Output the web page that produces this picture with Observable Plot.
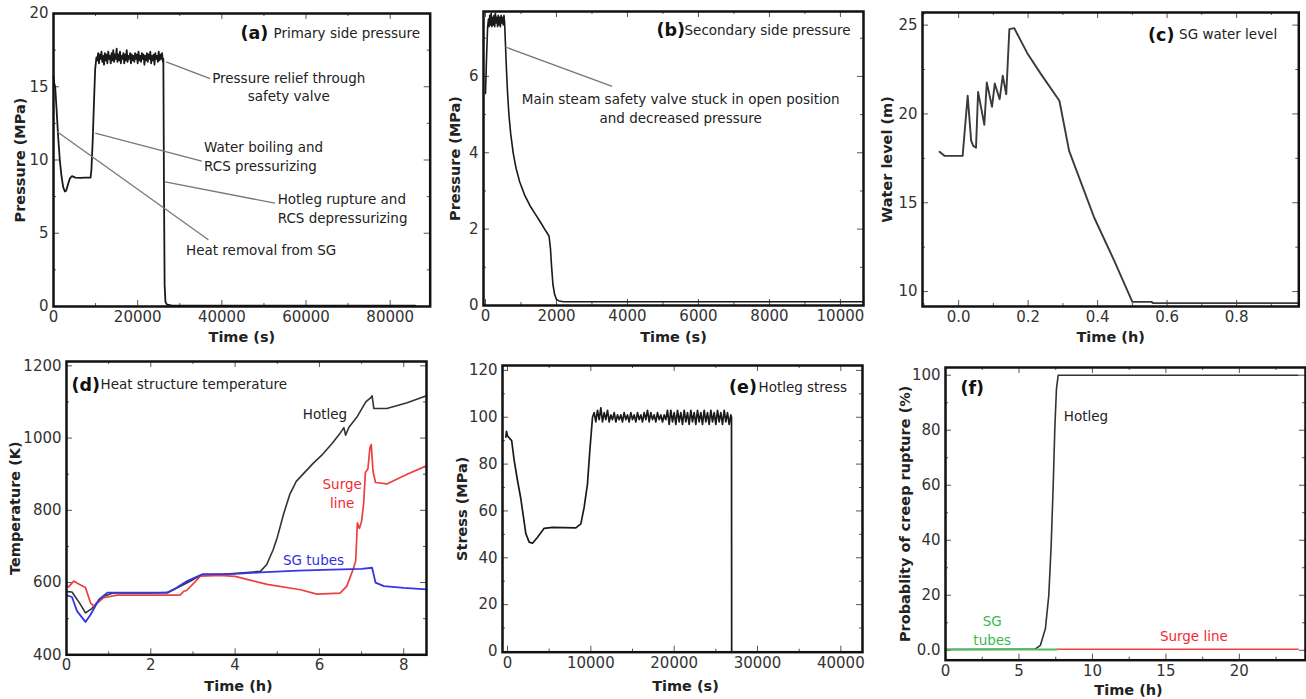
<!DOCTYPE html>
<html><head><meta charset="utf-8">
<script src="https://cdn.jsdelivr.net/npm/d3@7"></script>
<script src="https://cdn.jsdelivr.net/npm/@observablehq/plot@0.6"></script>
<style>
html,body{margin:0;padding:0;background:#fff;}
#wrap{position:relative;width:1306px;height:699px;overflow:hidden;font-family:"DejaVu Sans",sans-serif;}
#wrap svg{position:absolute;overflow:visible;background:transparent;}
</style></head><body><div id="wrap"></div>
<script>
// ---------- (a) Primary side pressure: time (s), pressure (MPa)
const primaryPre = [[0,15.7],[200,15.2],[400,15.0],[700,13.6],[1100,11.6],[1500,10.0],[1900,8.9],[2300,8.15],[2700,7.85],[3000,7.9],[3400,8.3],[3900,8.75],[4400,8.9],[5200,8.8],[6500,8.78],[7500,8.8],[8800,8.8],[9000,9.3],[9300,11.2],[9600,13.8],[9900,16.2]];
const primaryNoiseStart = 10200, primaryNoiseStep = 200;
const primaryNoise = [17.0,16.8,17.3,16.6,17.2,16.9,17.4,16.7,17.1,16.5,
 17.3,16.8,17.2,16.6,17.4,16.9,17.1,16.6,17.3,16.8,
 17.5,16.7,17.2,16.9,17.6,16.7,17.2,16.8,17.4,16.6,
 17.1,16.9,17.3,16.6,17.2,16.8,17.5,16.7,17.1,16.9,
 17.3,16.6,17.2,16.8,17.1,16.7,17.3,16.9,17.2,16.6,
 17.4,16.8,17.1,16.7,17.3,16.9,17.2,16.5,17.1,16.8,
 17.3,16.7,17.2,16.9,17.4,16.6,17.1,16.8,17.2,16.5,
 17.3,16.9,17.1,16.7,17.4,16.8,17.2,16.9,17.3,16.7];
const primaryPost = [[26100,16.9],[26250,8.0],[26400,1.5],[26600,0.3],[27000,0.12],[28000,0.08],[40000,0.06],[60000,0.05],[86000,0.05]];

// ---------- (b) Secondary side pressure: time (s), pressure (MPa)
const secondaryPre = [[0,5.55],[30,6.5],[60,7.3],[85,7.5]];
const secondaryNoiseStart = 100, secondaryNoiseStep = 20;
const secondaryNoise = [7.3,7.6,7.35,7.65,7.3,7.55,7.35,7.6,7.3,7.65,7.4,7.55,7.3,7.6,7.35,7.55,7.3,7.6,7.4,7.55,7.35,7.6,7.4];
const secondaryPost = [[560,6.9],[590,6.2],[620,5.6],[660,5.0],[710,4.5],[780,4.0],[860,3.6],[960,3.25],[1100,2.9],[1250,2.62],[1400,2.4],[1550,2.18],[1700,1.95],[1790,1.82],[1830,1.5],[1860,1.05],[1900,0.55],[1950,0.28],[2000,0.16],[2070,0.12],[2200,0.1],[6000,0.1],[10650,0.1]];

// ---------- (c) SG water level: time (h), level (m)
const waterLevel = [[-0.055,17.87],[-0.041,17.64],[0.0115,17.64],[0.026,21.02],[0.036,18.5],[0.042,18.2],[0.05,18.1],[0.056,21.24],[0.074,19.39],[0.081,21.77],[0.096,20.4],[0.104,21.71],[0.118,20.83],[0.127,22.15],[0.137,21.11],[0.146,24.77],[0.16,24.83],[0.199,23.37],[0.237,22.24],[0.29,20.74],[0.318,17.92],[0.39,14.17],[0.448,11.73],[0.50,9.42],[0.555,9.42],[0.56,9.35],[0.98,9.35]];

// ---------- (d) Heat structure temperature: time (h), temperature (K)
const tempHotleg = [[0,575],[0.13,574],[0.3,545],[0.45,516],[0.6,528],[0.75,548],[0.9,563],[1.1,571],[1.5,571],[2.0,571],[2.4,572],[2.7,590],[3.0,608],[3.2,621],[3.7,623],[4.2,627],[4.6,631],[4.75,650],[4.9,690],[5.0,725],[5.15,790],[5.3,845],[5.45,880],[5.65,905],[5.85,930],[6.05,952],[6.3,985],[6.5,1015],[6.58,1029],[6.62,1008],[6.7,1030],[6.9,1060],[7.1,1100],[7.22,1112],[7.25,1117],[7.29,1082],[7.6,1082],[8.08,1098],[8.54,1117]];
const tempSurge = [[0,590],[0.05,588],[0.17,604],[0.29,596],[0.45,586],[0.57,544],[0.65,535],[0.88,558],[1.2,565],[2.0,565],[2.62,565],[2.7,566],[2.78,576],[2.85,578],[3.18,618],[3.65,620],[4.0,617],[4.76,595],[5.55,580],[5.94,568],[6.49,571],[6.65,590],[6.8,637],[6.86,660],[6.88,710],[6.9,765],[6.95,750],[7.0,770],[7.05,820],[7.09,905],[7.15,915],[7.2,975],[7.23,982],[7.27,909],[7.33,877],[7.6,873],[8.08,900],[8.54,923]];
const tempSGTubes = [[0,565],[0.13,560],[0.25,521],[0.45,491],[0.57,511],[0.77,553],[0.97,572],[1.5,572],[2.39,572],[2.6,585],[2.86,604],[3.22,623],[4.0,624],[4.6,628],[5.5,633],[6.3,636],[7.0,638],[7.25,641],[7.33,600],[7.53,590],[8.0,585],[8.54,581]];

// ---------- (e) Hotleg stress: time (s), stress (MPa)
const stressPre = [[-200,91.5],[-120,94],[0,92],[120,91.5],[500,90],[800,81.6],[1200,73],[1600,65.2],[1800,60.2],[2200,50.3],[2600,46.7],[3000,46.2],[3600,48.8],[4400,52.6],[5400,53.0],[8200,52.8],[8800,54.5],[9200,61.6],[9600,71.6],[9880,85.8],[10200,100]];
const stressNoiseStart = 10400, stressNoiseStep = 200;
const stressNoise = [102,98,103,99,104,98,102,99,103,98,
 101,99,102,98,101,99,101,98,102,99,
 101,98,102,99,101,98,102,99,101,98,
 102,99,103,98,102,99,101,98,102,99,
 101,98,101,99,103,97,103,98,102,97,
 103,98,102,97,103,98,102,97,103,98,
 102,97,103,98,102,97,103,98,102,97,
 103,98,102,97,103,98,102,97,103,98,
 102,97,101];
const stressPost = [[26880,100],[26900,0]];

// ---------- (f) Probability of creep rupture: time (h), probability (%)
const probHotleg = [[0,0.3],[6.1,0.4],[6.46,1.8],[6.8,7.9],[7.03,20],[7.19,38],[7.33,60],[7.44,80.6],[7.55,95],[7.67,100],[24,100]];
const probSGTubes = [[0,0.3],[7.6,0.3]];
const probSurge = [[7.6,0.4],[24,0.4]];

// ---------- tick values
const ticksA = {xMajor:[0,20000,40000,60000,80000], xMinor:[10000,30000,50000,70000], yMajor:[0,5,10,15,20], yMinor:[2.5,7.5,12.5,17.5]};
const ticksB = {xMajor:[0,2000,4000,6000,8000,10000], xMinor:[1000,3000,5000,7000,9000], yMajor:[0,2,4,6], yMinor:[1,3,5,7]};
const ticksC = {xMajor:[0,0.2,0.4,0.6,0.8], xMinor:[-0.1,0.1,0.3,0.5,0.7,0.9], yMajor:[10,15,20,25], yMinor:[12.5,17.5,22.5]};
const ticksD = {xMajor:[0,2,4,6,8], xMinor:[1,3,5,7], yMajor:[400,600,800,1000,1200], yMinor:[500,700,900,1100]};
const ticksE = {xMajor:[0,10000,20000,30000,40000], xMinor:[5000,15000,25000,35000], yMajor:[0,20,40,60,80,100,120], yMinor:[10,30,50,70,90,110]};
const ticksF = {xMajor:[0,5,10,15,20], xMinor:[2.5,7.5,12.5,17.5,22.5], yMajor:[0,20,40,60,80,100], yMinor:[10,30,50,70,90]};

function withNoise(pre, start, step, vals, post) {
  return pre.concat(vals.map((v, i) => [start + i * step, v]), post);
}
const X = d => d[0], Y = d => d[1];
const INK = "#222";
const wrap = document.getElementById("wrap");

function panel(cfg) {
  const [L, T, R, B] = cfg.frame;
  const mL = 70, mT = 12, mR = 12, mB = 50;
  const tk = cfg.ticks;
  const [x0, x1] = cfg.xDomain, [y0, y1] = cfg.yDomain;
  const perPxY = (y1 - y0) / (B - T), perPxX = (x1 - x0) / (R - L);
  const tickStyle = {stroke: "#555", strokeWidth: 1};
  const xTicks = (vals, len) => [
    Plot.ruleX(vals, {x: d => d, y1: y0, y2: y0 + len * perPxY, ...tickStyle}),
    Plot.ruleX(vals, {x: d => d, y1: y1, y2: y1 - len * perPxY, ...tickStyle})
  ];
  const yTicks = (vals, len) => [
    Plot.ruleY(vals, {y: d => d, x1: x0, x2: x0 + len * perPxX, ...tickStyle}),
    Plot.ruleY(vals, {y: d => d, x1: x1, x2: x1 - len * perPxX, ...tickStyle})
  ];
  const svg = Plot.plot({
    width: (R - L) + mL + mR, height: (B - T) + mT + mB,
    marginLeft: mL, marginTop: mT, marginRight: mR, marginBottom: mB,
    style: {fontFamily: "DejaVu Sans, sans-serif", fontSize: "14px", background: "transparent", overflow: "visible", color: INK},
    x: {domain: cfg.xDomain, label: null},
    y: {domain: cfg.yDomain, label: null},
    marks: [
      ...xTicks(tk.xMajor, 6), ...xTicks(tk.xMinor, 3),
      ...yTicks(tk.yMajor, 6), ...yTicks(tk.yMinor, 3),
      ...cfg.marks,
      Plot.axisX(tk.xMajor, {anchor: "bottom", tickSize: 0, tickPadding: 5, fontSize: 15, fill: "#333", label: null, tickFormat: cfg.xFormat || (d => String(d))}),
      Plot.axisY(tk.yMajor, {anchor: "left", tickSize: 0, tickPadding: 5, fontSize: 15, fill: "#333", label: null, tickFormat: cfg.yFormat || (d => String(d))}),
      Plot.frame({stroke: "#111", strokeWidth: 2.5}),
      Plot.text([cfg.xLabel], {text: d => d, frameAnchor: "bottom", dy: cfg.xLabelDy, dx: cfg.xLabelDx || 0, lineAnchor: "middle", fontWeight: "bold", fontSize: 14.5, fill: INK}),
      Plot.text([cfg.yLabel], {text: d => d, frameAnchor: "left", dx: cfg.yLabelDx, rotate: -90, lineAnchor: "middle", textAnchor: "middle", fontWeight: "bold", fontSize: 14.5, fill: INK}),
      Plot.text([cfg.tag], {text: d => d, frameAnchor: "top-left", dx: cfg.tagDx, dy: cfg.titleDy, textAnchor: "start", lineAnchor: "middle", fontWeight: "bold", fontSize: 17.5, fill: "#111"}),
      cfg.title ? Plot.text([cfg.title], {text: d => d, frameAnchor: "top-left", dx: cfg.titleDx, dy: cfg.titleDy, textAnchor: "start", lineAnchor: "middle", fontSize: 13.5, fill: INK}) : null
    ]
  });
  svg.style.left = (L - mL) + "px";
  svg.style.top = (T - mT) + "px";
  wrap.appendChild(svg);
}

const lead = {stroke: "#777", strokeWidth: 1.3};
const annText = {textAnchor: "start", lineAnchor: "middle", lineHeight: 1.38, fontSize: 13.5, fill: INK};

// (a)
panel({
  frame: [53.3, 13, 430, 306], xDomain: [0, 89500], yDomain: [0, 20], ticks: ticksA,
  xLabel: "Time (s)", xLabelDy: 31, yLabel: "Pressure (MPa)", yLabelDx: -33,
  tag: "(a)", tagDx: 187, title: "Primary side pressure", titleDx: 220, titleDy: 20,
  marks: [
    Plot.line(withNoise(primaryPre, primaryNoiseStart, primaryNoiseStep, primaryNoise, primaryPost), {x: X, y: Y, stroke: "#1a1a1a", strokeWidth: 1.8}),
    Plot.link([
      {x1: 26750, y1: 16.7, x2: 37200, y2: 15.56},
      {x1: 9900, y1: 11.83, x2: 35230, y2: 9.92},
      {x1: 26520, y1: 8.51, x2: 52630, y2: 7.05},
      {x1: 800, y1: 11.95, x2: 36800, y2: 4.55}
    ], {x1: "x1", y1: "y1", x2: "x2", y2: "y2", ...lead}),
    Plot.text([{x: 55900, y: 15.06, t: "Pressure relief through\nsafety valve"}], {x: "x", y: "y", text: "t", ...annText, textAnchor: "middle"}),
    Plot.text([
      {x: 35770, y: 10.31, t: "Water boiling and\nRCS pressurizing"},
      {x: 53270, y: 6.74, t: "Hotleg rupture and\nRCS depressurizing"},
      {x: 31500, y: 3.89, t: "Heat removal from SG"}
    ], {x: "x", y: "y", text: "t", ...annText})
  ]
});

// (b)
panel({
  frame: [483, 11, 863, 305], xDomain: [-56, 10650], yDomain: [0, 7.7], ticks: ticksB,
  xLabel: "Time (s)", xLabelDy: 32, yLabel: "Pressure (MPa)", yLabelDx: -28,
  tag: "(b)", tagDx: 173, title: "Secondary side pressure", titleDx: 201, titleDy: 19,
  marks: [
    Plot.line(withNoise(secondaryPre, secondaryNoiseStart, secondaryNoiseStep, secondaryNoise, secondaryPost), {x: X, y: Y, stroke: "#1a1a1a", strokeWidth: 1.6}),
    Plot.link([{x1: 563, y1: 6.77, x2: 3569, y2: 5.74}], {x1: "x1", y1: "y1", x2: "x2", y2: "y2", ...lead}),
    Plot.text([{x: 5499, y: 5.19, t: "Main steam safety valve stuck in open position\nand decreased pressure"}], {x: "x", y: "y", text: "t", ...annText, textAnchor: "middle"})
  ]
});

// (c)
panel({
  frame: [921.7, 11.7, 1298, 305.7], xDomain: [-0.104, 0.979], yDomain: [9.16, 25.71], ticks: ticksC,
  xFormat: d => d.toFixed(1),
  xLabel: "Time (h)", xLabelDy: 31, yLabel: "Water level (m)", yLabelDx: -35,
  tag: "(c)", tagDx: 225.6, title: "SG water level", titleDx: 256.6, titleDy: 22.6,
  marks: [
    Plot.line(waterLevel, {x: X, y: Y, stroke: "#3a3a3a", strokeWidth: 1.9})
  ]
});

// (d)
panel({
  frame: [66, 360.7, 426, 654], xDomain: [0, 8.54], yDomain: [400, 1212], ticks: ticksD,
  xLabel: "Time (h)", xLabelDy: 32, xLabelDx: -8, yLabel: "Temperature (K)", yLabelDx: -51,
  tag: "(d)", tagDx: 5, title: "Heat structure temperature", titleDx: 34, titleDy: 23.6,
  marks: [
    Plot.line(tempHotleg, {x: X, y: Y, stroke: "#333", strokeWidth: 1.6}),
    Plot.line(tempSurge, {x: X, y: Y, stroke: "#ea4040", strokeWidth: 1.7}),
    Plot.line(tempSGTubes, {x: X, y: Y, stroke: "#3535e6", strokeWidth: 1.8}),
    Plot.text([{x: 6.13, y: 1066, t: "Hotleg"}], {x: "x", y: "y", text: "t", fontSize: 13.5, fill: INK, lineAnchor: "middle"}),
    Plot.text([{x: 6.54, y: 849, t: "Surge\nline"}], {x: "x", y: "y", text: "t", fontSize: 13.5, fill: "#f02a30", lineAnchor: "middle", lineHeight: 1.38}),
    Plot.text([{x: 5.86, y: 659.6, t: "SG tubes"}], {x: "x", y: "y", text: "t", fontSize: 13.5, fill: "#3030e0", lineAnchor: "middle"})
  ]
});

// (e)
panel({
  frame: [501.7, 365, 861.7, 651.7], xDomain: [-600, 42600], yDomain: [-0.3, 122.1], ticks: ticksE,
  xLabel: "Time (s)", xLabelDy: 34, xLabelDx: 3, yLabel: "Stress (MPa)", yLabelDx: -40,
  tag: "(e)", tagDx: 226.6, title: "Hotleg stress", titleDx: 256, titleDy: 21.7,
  marks: [
    Plot.line(withNoise(stressPre, stressNoiseStart, stressNoiseStep, stressNoise, stressPost), {x: X, y: Y, stroke: "#1a1a1a", strokeWidth: 1.7})
  ]
});

// (f)
panel({
  frame: [945, 367.3, 1305, 660], xDomain: [0, 24.5], yDomain: [-3.6, 102.8], ticks: ticksF,
  yFormat: d => d === 0 ? "0.0" : String(d),
  xLabel: "Time (h)", xLabelDy: 30, xLabelDx: 3, yLabel: "Probablity of creep rupture (%)", yLabelDx: -40,
  tag: "(f)", tagDx: 15, title: null, titleDy: 21,
  marks: [
    Plot.line(probSurge, {x: X, y: Y, stroke: "#f04040", strokeWidth: 1.6}),
    Plot.line(probHotleg, {x: X, y: Y, stroke: "#333", strokeWidth: 1.6}),
    Plot.line(probSGTubes, {x: X, y: Y, stroke: "#4cc060", strokeWidth: 2}),
    Plot.text([{x: 8.05, y: 84.8, t: "Hotleg"}], {x: "x", y: "y", text: "t", fontSize: 13.5, fill: INK, textAnchor: "start", lineAnchor: "middle"}),
    Plot.text([{x: 3.18, y: 7.6, t: "SG\ntubes"}], {x: "x", y: "y", text: "t", fontSize: 13.5, fill: "#3cb850", lineAnchor: "middle", lineHeight: 1.38}),
    Plot.text([{x: 16.9, y: 4.8, t: "Surge line"}], {x: "x", y: "y", text: "t", fontSize: 13.5, fill: "#f02a30", lineAnchor: "middle"})
  ]
});
</script></body></html>
